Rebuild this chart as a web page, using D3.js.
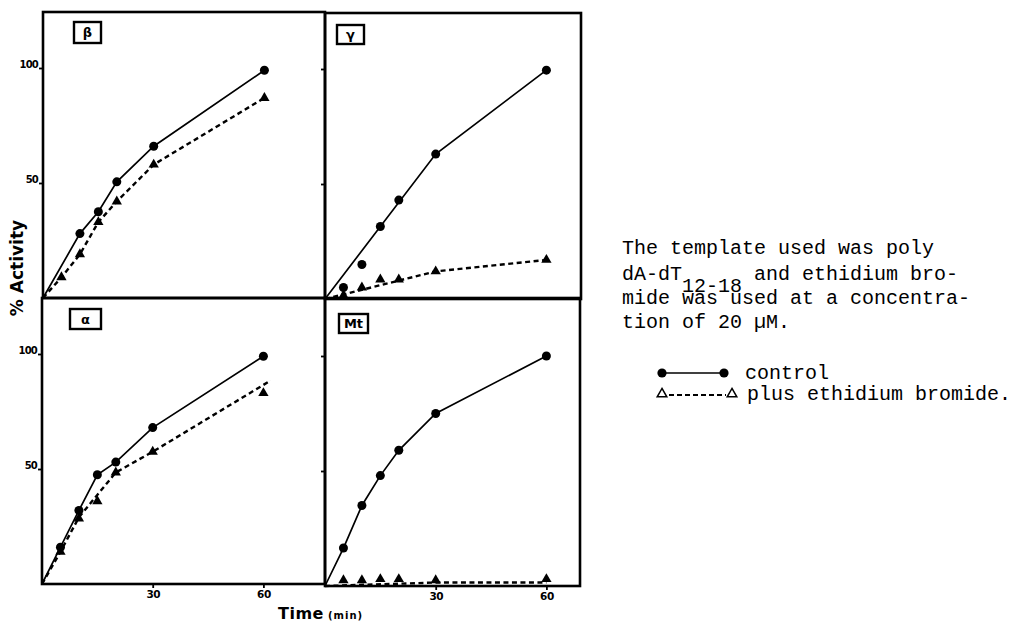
<!DOCTYPE html>
<html><head><meta charset="utf-8">
<script src="https://cdn.jsdelivr.net/npm/d3@7"></script>
<style>body{margin:0;background:#fff}</style>
</head><body><svg id="c" width="1018" height="630"></svg>
<script>
// ---------------- data ----------------
const panelNames = ["β", "γ", "α", "Mt"];

const betaCtrlT = [0, 10, 15, 20, 30, 60];
const betaCtrl  = [0, 28, 37.5, 50.5, 66, 99];
const betaEthT  = [0, 5, 10, 15, 20, 30, 60];
const betaEth   = [0, 9, 19, 33, 42, 58, 87];

const gammaT       = [0, 5, 10, 15, 20, 30, 60];
const gammaCtrl    = [0, 5, 15, 31.5, 43, 63, 99.5];
const gammaEth     = [0, 1.5, 5, 8.5, 8.5, 12, 17];
const gammaCtrlFitT = [0, 30, 60];
const gammaCtrlFit  = [0, 63, 99.5];
const gammaEthFitT  = [0, 30, 60];
const gammaEthFit   = [0, 12, 17];

const alphaT      = [0, 5, 10, 15, 20, 30, 60];
const alphaCtrl   = [0, 16, 32, 47.5, 53, 68, 99];
const alphaEth    = [0, 14, 28.5, 36, 48.5, 57.5, 83];
const alphaEthFitT = [0, 5, 10, 20, 30, 62];
const alphaEthFit  = [0, 14, 29, 48.5, 57.5, 88.5];

const mtT       = [0, 5, 10, 15, 20, 30, 60];
const mtCtrl    = [0, 16.5, 35, 48, 59, 75, 100];
const mtEth     = [0, 2.5, 2.5, 3, 3, 2.5, 3];
const mtEthFitT = [0, 20, 30, 60];
const mtEthFit  = [0, 1, 1.5, 1.5];

const yTickValues = [50, 100];
const yTickLabels = ["50", "100"];
const xTickValues = [30, 60];
const xTickLabels = ["30", "60"];

const yTitle = "% Activity";
const xTitle = "Time";
const xUnit = "(min)";

const noteLine1 = "The template used was poly";
const noteLine2a = "dA-dT";
const noteLine2sub = "12-18";
const noteLine2b = " and ethidium bro-";
const noteLine3 = "mide was used at a concentra-";
const noteLine4 = "tion of 20 µM.";
const legendLabels = ["control", "plus ethidium bromide."];

// ---------------- helpers ----------------
const zip = (ts, vs) => ts.map((t, i) => ({t, v: vs[i]}));

const series = {
  "β":  {ctrl: zip(betaCtrlT, betaCtrl), eth: zip(betaEthT, betaEth), ctrlLine: zip(betaCtrlT, betaCtrl), ethLine: zip(betaEthT, betaEth)},
  "γ":  {ctrl: zip(gammaT, gammaCtrl), eth: zip(gammaT, gammaEth), ctrlLine: zip(gammaCtrlFitT, gammaCtrlFit), ethLine: zip(gammaEthFitT, gammaEthFit)},
  "α":  {ctrl: zip(alphaT, alphaCtrl), eth: zip(alphaT, alphaEth), ctrlLine: zip(alphaT, alphaCtrl), ethLine: zip(alphaEthFitT, alphaEthFit)},
  "Mt": {ctrl: zip(mtT, mtCtrl), eth: zip(mtT, mtEth), ctrlLine: zip(mtT, mtCtrl), ethLine: zip(mtEthFitT, mtEthFit)}
};

// layout (positions only)
const pxPerMin = 3.69, pxPerUnit = 2.3;
const layout = {
  "β":  {x0: 43,  x1: 325, y0: 12,  y1: 298, box: [74, 22, 27, 21], left: true,  bottom: false},
  "γ":  {x0: 325, x1: 581, y0: 13,  y1: 299, box: [337, 25, 27, 19], left: false, bottom: false},
  "α":  {x0: 42,  x1: 325, y0: 298, y1: 584, box: [70, 309, 31, 20], left: true,  bottom: true},
  "Mt": {x0: 325, x1: 580, y0: 298, y1: 586, box: [339, 314, 29, 19], left: false, bottom: true}
};

const svg = d3.select("#c");
const chartFont = "'DejaVu Sans', sans-serif";

panelNames.forEach(name => {
  const L = layout[name], S = series[name];
  const x = d3.scaleLinear().domain([0, (L.x1 - L.x0) / pxPerMin]).range([L.x0, L.x1]);
  const y = d3.scaleLinear().domain([0, (L.y1 - L.y0) / pxPerUnit]).range([L.y1, L.y0]);
  const g = svg.append("g");

  // frame
  g.append("rect").attr("x", L.x0).attr("y", L.y0)
    .attr("width", L.x1 - L.x0).attr("height", L.y1 - L.y0)
    .attr("fill", "none").attr("stroke", "#000").attr("stroke-width", 2.6);

  // y axis ticks
  const ya = d3.axisLeft(y).tickValues(yTickValues).tickSize(4).tickPadding(1)
    .tickFormat((d, i) => L.left ? yTickLabels[i] : "");
  const yg = g.append("g").attr("transform", `translate(${L.x0},0)`).call(ya);
  yg.select(".domain").remove();
  yg.selectAll("line").attr("stroke-width", 1.8);
  yg.selectAll("text").attr("font-family", chartFont).attr("font-weight", "bold")
    .attr("font-size", 10).attr("letter-spacing", -0.8).attr("dy", "-0.05em");

  if (L.bottom) {
    const xa = d3.axisBottom(x).tickValues(xTickValues).tickSize(4).tickPadding(3)
      .tickFormat((d, i) => xTickLabels[i]);
    const xg = g.append("g").attr("transform", `translate(0,${L.y1})`).call(xa);
    xg.select(".domain").remove();
    xg.selectAll("line").attr("stroke-width", 1.8);
    xg.selectAll("text").attr("font-family", chartFont).attr("font-weight", "bold")
      .attr("font-size", 10.5).attr("letter-spacing", -0.5);
  }

  // label box
  const [bx, by, bw, bh] = L.box;
  g.append("rect").attr("x", bx).attr("y", by).attr("width", bw).attr("height", bh)
    .attr("fill", "#fff").attr("stroke", "#000").attr("stroke-width", 2.4);
  g.append("text").attr("x", bx + bw / 2).attr("y", by + bh / 2).attr("dy", "0.36em")
    .attr("text-anchor", "middle").attr("font-family", chartFont).attr("font-weight", "bold")
    .attr("font-size", 13).text(name);

  const line = d3.line().x(d => x(d.t)).y(d => y(d.v));
  g.append("path").datum(S.ctrlLine).attr("d", line).attr("fill", "none")
    .attr("stroke", "#000").attr("stroke-width", 1.7);
  g.append("path").datum(S.ethLine).attr("d", line).attr("fill", "none")
    .attr("stroke", "#000").attr("stroke-width", 2.4).attr("stroke-dasharray", "5,3.5");

  g.selectAll(".c").data(S.ctrl.filter(d => d.t > 0)).enter().append("circle")
    .attr("cx", d => x(d.t)).attr("cy", d => y(d.v)).attr("r", 4.5).attr("fill", "#000");
  const tri = d3.symbol().type(d3.symbolTriangle).size(46);
  g.selectAll(".t").data(S.eth.filter(d => d.t > 0)).enter().append("path")
    .attr("d", tri).attr("transform", d => `translate(${x(d.t)},${y(d.v)})`).attr("fill", "#000");
});

// axis titles
svg.append("text").attr("transform", "translate(23,268) rotate(-90)")
  .attr("text-anchor", "middle").attr("font-family", chartFont).attr("font-weight", "bold")
  .attr("font-size", 17).text(yTitle);
svg.append("text").attr("x", 278).attr("y", 619).attr("font-family", chartFont)
  .attr("font-weight", "bold").attr("font-size", 16).attr("letter-spacing", 0.5).text(xTitle);
svg.append("text").attr("x", 328).attr("y", 619).attr("font-family", chartFont)
  .attr("font-weight", "bold").attr("font-size", 10).attr("letter-spacing", 1).text(xUnit);

// note text
const mono = "'Liberation Mono', 'Courier New', monospace";
const note = svg.append("g").attr("font-family", mono).attr("font-size", 20).attr("fill", "#000");
note.append("text").attr("x", 622).attr("y", 254).text(noteLine1);
const t2 = note.append("text").attr("x", 622).attr("y", 280);
t2.append("tspan").text(noteLine2a);
t2.append("tspan").attr("dy", 12).text(noteLine2sub);
t2.append("tspan").attr("dy", -12).text(noteLine2b);
note.append("text").attr("x", 622).attr("y", 304).text(noteLine3);
note.append("text").attr("x", 622).attr("y", 328).text(noteLine4);

// legend
const lg = svg.append("g");
lg.append("line").attr("x1", 662).attr("x2", 724).attr("y1", 373).attr("y2", 373)
  .attr("stroke", "#000").attr("stroke-width", 1.6);
[662, 724].forEach(cx => lg.append("circle").attr("cx", cx).attr("cy", 373).attr("r", 4.6).attr("fill", "#000"));
lg.append("text").attr("x", 745).attr("y", 379).attr("font-family", mono).attr("font-size", 20).text(legendLabels[0]);

lg.append("line").attr("x1", 669).attr("x2", 726).attr("y1", 395).attr("y2", 395)
  .attr("stroke", "#000").attr("stroke-width", 1.8).attr("stroke-dasharray", "5,3");
const triO = d3.symbol().type(d3.symbolTriangle).size(40);
[662, 732].forEach(cx => lg.append("path").attr("d", triO)
  .attr("transform", `translate(${cx},394)`).attr("fill", "#fff").attr("stroke", "#000").attr("stroke-width", 1.5));
lg.append("text").attr("x", 747).attr("y", 400).attr("font-family", mono).attr("font-size", 20).text(legendLabels[1]);
</script>
</body></html>
